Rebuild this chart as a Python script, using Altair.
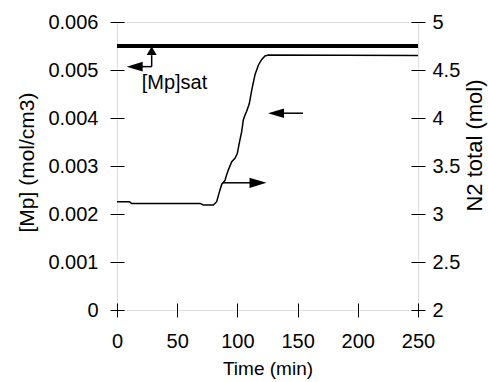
import altair as alt
import pandas as pd

# ---- data ----
time_min = [0, 10.2, 12.2, 68.9, 71.7, 80.0, 82.8, 84.7, 87.0, 89.7, 91.1, 92.5,
            95.3, 98.0, 99.9, 101.6, 103.6, 104.9, 106.3, 107.7, 109.9, 111.9,
            114.6, 117.4, 120.2, 122.9, 125.7, 250]
n2_total = [3.128, 3.128, 3.11, 3.11, 3.094, 3.094, 3.128, 3.215, 3.31, 3.35, 3.41, 3.46,
            3.545, 3.58, 3.63, 3.74, 3.86, 3.98, 4.03, 4.07, 4.15, 4.29,
            4.45, 4.55, 4.61, 4.646, 4.655, 4.65]

mp_sat = 0.0055
time_range = [0, 250]

# arrow shafts (time, [Mp] units)
seg_x = [28.8, 28.8, 138.7, 88.0]
seg_x2 = [28.8, 20.8, 154.5, 110.5]
seg_y = [0.00507, 0.00507, 0.0041, 0.00265]
seg_y2 = [0.00531, 0.00507, 0.0041, 0.00265]

# arrow heads
head_x = [28.8, 14.7, 132.1, 117.1]
head_y = [0.00540, 0.00507, 0.0041, 0.00265]
head_dir = ["up", "left", "left", "right"]

label_text = ["[Mp]sat"]
label_x = [20.5]
label_y = [0.00473]

left_ticks = [0, 0.001, 0.002, 0.003, 0.004, 0.005, 0.006]
right_ticks = [2, 2.5, 3, 3.5, 4, 4.5, 5]
x_ticks = [0, 50, 100, 150, 200, 250]

FONT = "Liberation Sans"
W, H = 301, 288

curve_df = pd.DataFrame({"t": time_min, "n2": n2_total})
sat_df = pd.DataFrame({"t": [time_range[0]], "t2": [time_range[1]], "mp": [mp_sat]})
seg_df = pd.DataFrame({"x": seg_x, "x2": seg_x2, "y": seg_y, "y2": seg_y2})
head_df = pd.DataFrame({"x": head_x, "y": head_y, "dir": head_dir})
lab_df = pd.DataFrame({"x": label_x, "y": label_y, "text": label_text})

xscale = alt.Scale(domain=[0, 250], nice=False)
yleft = alt.Scale(domain=[0, 0.006], nice=False)
yright = alt.Scale(domain=[2, 5], nice=False)

xaxis = alt.Axis(values=x_ticks, format="d", offset=-7, tickSize=14, domain=False,
                 grid=False, labelPadding=14, labelFlush=False, labelFont=FONT,
                 labelFontSize=20, labelColor="black", tickColor="black",
                 title="Time (min)", titleFont=FONT, titleFontSize=19,
                 titleFontWeight="normal", titleColor="black", titleBaseline="middle",
                 titleY=65)
laxis = alt.Axis(orient="left", values=left_ticks, format="~g", offset=-7, tickSize=14,
                 domain=False, grid=False, labelPadding=12, labelFlush=False,
                 labelFont=FONT, labelFontSize=20, labelColor="black", tickColor="black",
                 title="[Mp] (mol/cm3)", titleFont=FONT, titleFontSize=21,
                 titleFontWeight="normal", titleColor="black", titleAngle=270,
                 titleBaseline="middle", titleX=-97, titleY=140)
raxis = alt.Axis(orient="right", values=right_ticks, format="~g", offset=-7, tickSize=14,
                 domain=False, grid=False, labelPadding=7, labelFlush=False,
                 labelFont=FONT, labelFontSize=20, labelColor="black", tickColor="black",
                 title="N2 total (mol)", titleFont=FONT, titleFontSize=22,
                 titleFontWeight="normal", titleColor="black", titleAngle=270,
                 titleBaseline="middle", titleX=63, titleY=123)

sat = alt.Chart(sat_df).mark_rule(color="black", strokeWidth=4).encode(
    x=alt.X("t:Q", scale=xscale, axis=xaxis),
    x2="t2:Q",
    y=alt.Y("mp:Q", scale=yleft, axis=laxis),
)
segs = alt.Chart(seg_df).mark_rule(color="black", strokeWidth=1.5).encode(
    x="x:Q", x2="x2:Q", y="y:Q", y2="y2:Q"
)
shapes = {
    "up": "M-1,0.85L0,-0.85L1,0.85Z",
    "left": "M1,-0.6L-1,0L1,0.6Z",
    "right": "M-1,-0.6L1,0L-1,0.6Z",
}
sizes = {"up": 100, "left": 256, "right": 289}
heads = alt.layer(*[
    alt.Chart(head_df).transform_filter(alt.datum.dir == d).mark_point(
        shape=shapes[d], filled=True, color="black", opacity=1, size=sizes[d], strokeWidth=0
    ).encode(x="x:Q", y="y:Q")
    for d in ["up", "left", "right"]
])
label = alt.Chart(lab_df).mark_text(
    align="left", baseline="middle", font=FONT, fontSize=20, color="black"
).encode(x="x:Q", y="y:Q", text="text:N")

left_layer = alt.layer(sat, segs, heads, label)

curve = alt.Chart(curve_df).mark_line(color="black", strokeWidth=1.5).encode(
    x=alt.X("t:Q", scale=xscale),
    y=alt.Y("n2:Q", scale=yright, axis=raxis),
)

chart = alt.layer(left_layer, curve).resolve_scale(y="independent").properties(
    width=W, height=H,
    autosize=alt.AutoSizeParams(type="none"),
    padding={"left": 117, "top": 22, "right": 70, "bottom": 72},
).configure_view(stroke="black", strokeWidth=1).configure(background="white")

chart.save("out.html", embed_options={"renderer": "svg", "actions": False})
